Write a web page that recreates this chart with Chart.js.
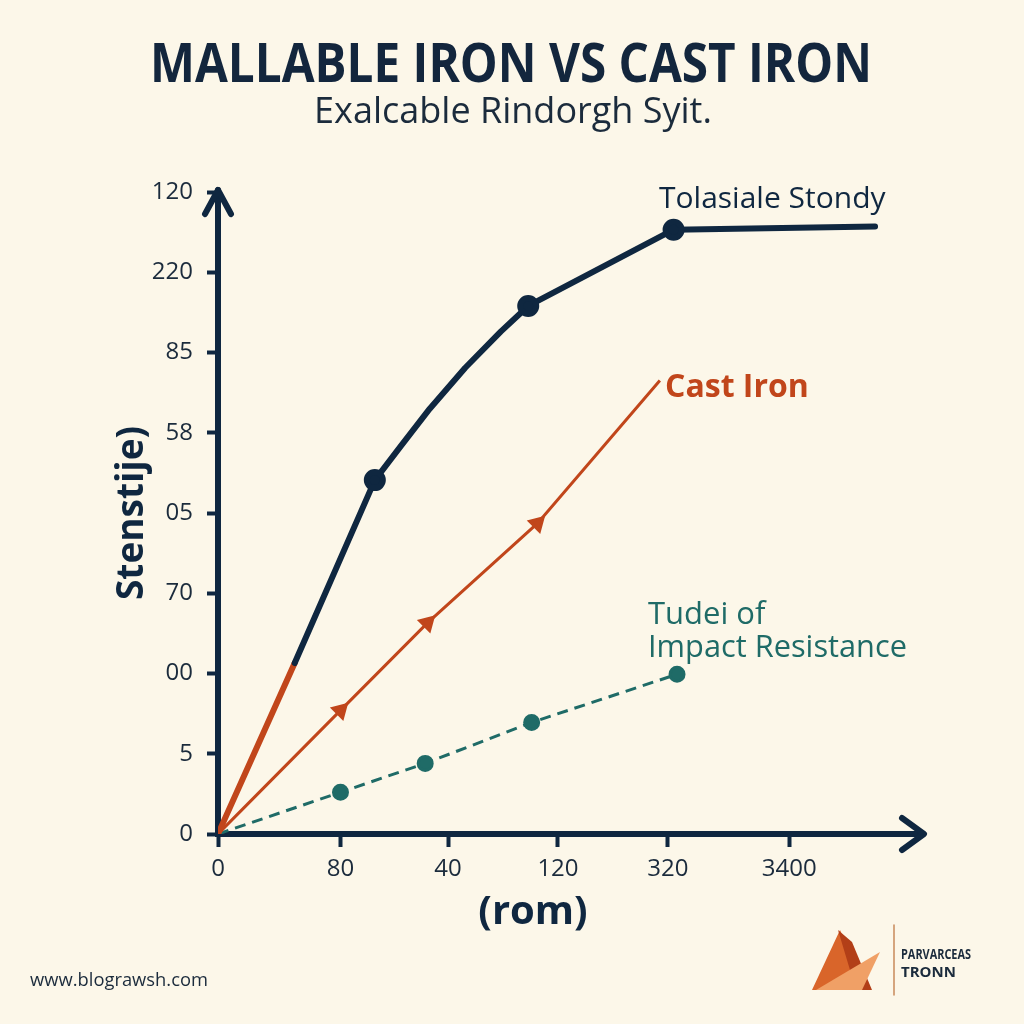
<!DOCTYPE html>
<html>
<head>
<meta charset="utf-8">
<script src="https://cdn.jsdelivr.net/npm/chart.js@4"></script>
<style>
  html, body { margin: 0; padding: 0; background: #fcf7e9; }
  #wrap { width: 1024px; height: 1024px; }
</style>
</head>
<body>
<div id="wrap"><canvas id="chart" width="1024" height="1024"></canvas></div>
<script>
// tick labels as printed on the picture (they are not in order)
const xTickLabels = ['0', '80', '40', '120', '320', '3400'];
const xTickPos = [0, 1.07, 2.01, 2.97, 3.93, 4.99];
const yTickLabels = ['0', '5', '00', '70', '05', '58', '85', '220', '120'];

// Tolasiale Stondy (dark line)
const stondyX = [0, 0.67, 1.37, 1.59, 1.85, 2.16, 2.47, 2.71, 3.98, 5.74];
const stondyY = [0, 2.13, 4.41, 4.82, 5.30, 5.81, 6.26, 6.58, 7.53, 7.57];
const stondyMarks = [0, 0, 8, 0, 0, 0, 0, 8, 8, 0];

// Cast Iron
const castX = [0, 1.07, 1.83, 2.79, 3.86];
const castY = [0, 1.54, 2.63, 3.87, 5.65];
const castMarks = [0, 8, 8, 8, 0];

// Tudei of Impact Resistance
const impactX = [0, 1.07, 1.81, 2.74, 4.01];
const impactY = [0, 0.52, 0.88, 1.39, 1.99];
const impactMarks = [0, 7, 7, 7, 7];

const navy = '#0f2740';
const orange = '#c1461b';
const teal = '#1f6b67';
const textDark = '#1b2b3c';

function pts(xs, ys) {
  return xs.map((x, i) => ({ x: x, y: ys[i] }));
}

const decor = {
  id: 'decor',
  beforeDraw(chart) {
    const c = chart.ctx;
    c.save();
    c.fillStyle = '#fcf7e9';
    c.fillRect(0, 0, chart.width, chart.height);
    c.restore();
  },
  afterDraw(chart) {
    const c = chart.ctx;
    const a = chart.chartArea;
    c.save();
    // axis arrows
    c.strokeStyle = navy;
    c.lineWidth = 6;
    c.lineCap = 'round';
    c.lineJoin = 'round';
    c.beginPath();
    c.moveTo(a.left, a.top + 4);
    c.lineTo(a.left, a.top - 2);
    c.stroke();
    c.beginPath();
    c.moveTo(a.left - 13, a.top + 22);
    c.lineTo(a.left, a.top - 2);
    c.lineTo(a.left + 13, a.top + 22);
    c.stroke();
    c.beginPath();
    c.moveTo(a.right - 20, a.bottom - 16);
    c.lineTo(a.right + 2, a.bottom);
    c.lineTo(a.right - 20, a.bottom + 16);
    c.stroke();

    // titles
    c.fillStyle = '#13263d';
    c.textAlign = 'center';
    c.textBaseline = 'alphabetic';
    c.font = 'bold 53px "Open Sans"';
    c.fillText('MALLABLE IRON VS CAST IRON', 511, 82, 722);
    c.fillStyle = textDark;
    c.font = '36px "Open Sans"';
    c.fillText('Exalcable Rindorgh Syit.', 513, 123, 418);

    // axis titles
    c.fillStyle = navy;
    c.font = 'bold 40px "Open Sans"';
    c.textBaseline = 'middle';
    c.fillText('(rom)', 533, 913);
    c.save();
    c.translate(132, 513);
    c.rotate(-Math.PI / 2);
    c.font = 'bold 37px "Open Sans"';
    c.fillText('Stenstije)', 0, 0, 182);
    c.restore();

    // series labels
    c.textAlign = 'left';
    c.fillStyle = navy;
    c.font = '30px "Open Sans"';
    c.fillText('Tolasiale Stondy', 659, 199, 238);
    c.fillStyle = orange;
    c.font = 'bold 32px "Open Sans"';
    c.fillText('Cast Iron', 665, 388, 146);
    c.fillStyle = teal;
    c.font = '31px "Open Sans"';
    c.fillText('Tudei of', 648, 615);
    c.fillText('Impact Resistance', 648, 648, 259);

    // footer
    c.fillStyle = textDark;
    c.font = '18.5px "Open Sans"';
    c.fillText('www.blograwsh.com', 30, 981, 178);

    // logo
    c.fillStyle = '#d9652a';
    c.beginPath();
    c.moveTo(812, 990); c.lineTo(840, 930); c.lineTo(866, 990); c.closePath();
    c.fill();
    c.fillStyle = '#b23f18';
    c.beginPath();
    c.moveTo(838, 930); c.lineTo(852, 942); c.lineTo(872, 990); c.lineTo(856, 990); c.closePath();
    c.fill();
    c.fillStyle = '#f0a066';
    c.beginPath();
    c.moveTo(816, 990); c.lineTo(880, 952); c.lineTo(862, 990); c.closePath();
    c.fill();
    c.strokeStyle = '#c98a5a';
    c.lineWidth = 1.5;
    c.beginPath();
    c.moveTo(894, 925); c.lineTo(894, 995);
    c.stroke();
    c.fillStyle = textDark;
    c.font = 'bold 15px "Open Sans"';
    c.fillText('PARVARCEAS', 901, 955, 70);
    c.fillText('TRONN', 901, 973);
    c.restore();
  }
};

new Chart(document.getElementById('chart'), {
  type: 'line',
  data: {
    datasets: [
      {
        label: 'Tolasiale Stondy',
        data: pts(stondyX, stondyY),
        borderColor: navy,
        borderWidth: 6,
        borderCapStyle: 'round',
        borderJoinStyle: 'round',
        pointRadius: stondyMarks,
        pointBackgroundColor: navy,
        pointBorderColor: navy,
        tension: 0,
        segment: {
          borderColor: (ctx) => ctx.p0DataIndex === 0 ? orange : navy
        }
      },
      {
        label: 'Cast Iron',
        data: pts(castX, castY),
        borderColor: orange,
        borderWidth: 3,
        pointStyle: 'triangle',
        pointRotation: 45,
        pointRadius: castMarks,
        pointBackgroundColor: orange,
        pointBorderColor: orange,
        tension: 0
      },
      {
        label: 'Tudei of Impact Resistance',
        data: pts(impactX, impactY),
        borderColor: teal,
        borderWidth: 3,
        borderDash: [11, 7],
        pointRadius: impactMarks,
        pointBackgroundColor: teal,
        pointBorderColor: teal,
        tension: 0
      }
    ]
  },
  options: {
    responsive: false,
    animation: false,
    layout: { padding: { top: 192, right: 102, left: 0, bottom: 0 } },
    plugins: {
      legend: { display: false },
      tooltip: { enabled: false },
      title: { display: false }
    },
    scales: {
      x: {
        type: 'linear',
        min: 0,
        max: 6.15,
        afterFit: (scale) => { scale.height = 190; },
        afterBuildTicks: (scale) => { scale.ticks = xTickPos.map((v) => ({ value: v })); },
        grid: { drawOnChartArea: false, drawTicks: true, tickLength: 13, tickWidth: 4, tickColor: navy },
        border: { display: true, color: navy, width: 6 },
        ticks: {
          padding: 8,
          color: textDark,
          font: { family: 'Open Sans', size: 24 },
          maxRotation: 0,
          autoSkip: false,
          callback: (v, i) => xTickLabels[i]
        }
      },
      y: {
        type: 'linear',
        min: 0,
        max: 8,
        afterFit: (scale) => { scale.width = 218; },
        afterBuildTicks: (scale) => { scale.ticks = yTickLabels.map((_, i) => ({ value: i })); },
        grid: { drawOnChartArea: false, drawTicks: true, tickLength: 11, tickWidth: 4, tickColor: navy },
        border: { display: true, color: navy, width: 6 },
        ticks: {
          padding: 14,
          color: textDark,
          font: { family: 'Open Sans', size: 24 },
          autoSkip: false,
          callback: (v, i) => yTickLabels[i]
        }
      }
    }
  },
  plugins: [decor]
});
</script>
</body>
</html>
